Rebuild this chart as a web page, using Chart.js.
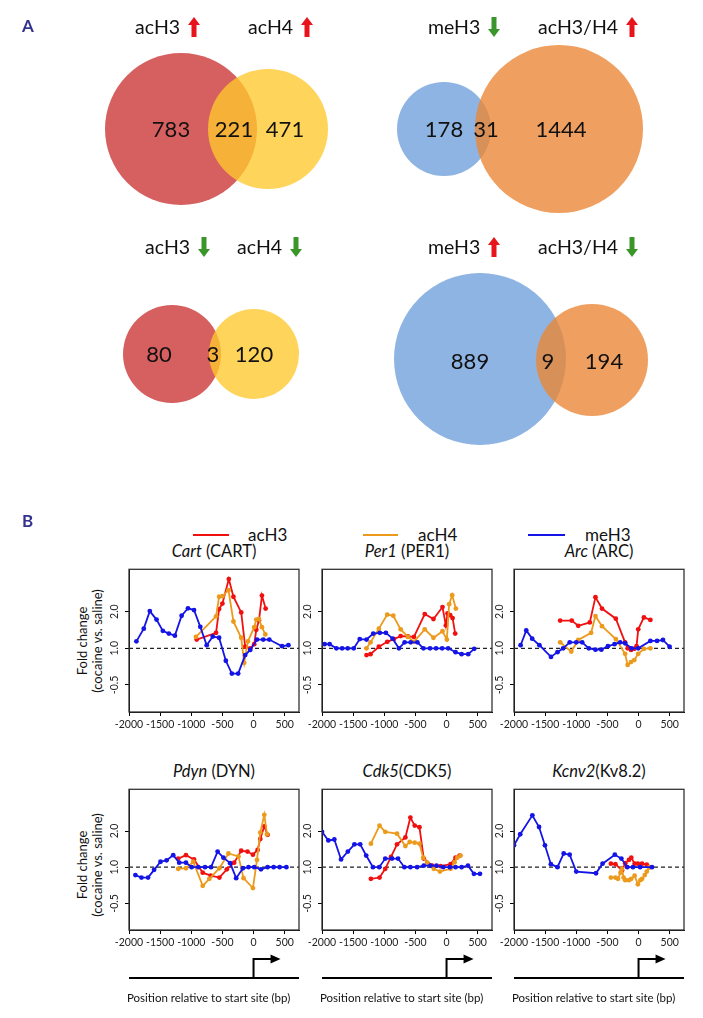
<!DOCTYPE html>
<html>
<head>
<meta charset="utf-8">
<script src="https://cdn.jsdelivr.net/npm/chart.js@4.4.0/dist/chart.umd.min.js"></script>
<style>
  body { margin: 0; background: #fff; }
  #page { position: relative; width: 703px; height: 1018px; overflow: hidden;
          font-family: Lato, "Open Sans", sans-serif; color: #111; }
  canvas { position: absolute; }
  .abs { position: absolute; white-space: nowrap; }
  .letter { font-weight: bold; font-size: 17px; color: #33338f; line-height: 20px; }
  .vt { font-size: 19.5px; line-height: 22px; display: flex; align-items: center; }
  .vt svg { margin-left: 8px; }
  .ttl { font-size: 16.5px; line-height: 20px; text-align: center; width: 170px; }
  .leg { font-size: 17px; line-height: 20px; }
  .legline { position: absolute; height: 2px; }
  .ytitle { font-size: 13px; line-height: 15px; text-align: center; width: 130px;
            transform: rotate(-90deg); }
</style>
</head>
<body>
<div id="page">
  <canvas id="venn" width="703" height="470" style="left:0;top:0"></canvas>

  <div class="abs letter" style="left:22px;top:16px">A</div>
  <div class="abs letter" style="left:22px;top:511px">B</div>

  <div id="vennTitles"></div>

  <!-- panel B legend -->
  <div class="legline" style="left:193px;top:534px;width:36px;background:#f01010"></div>
  <div class="abs leg" style="left:248px;top:525px">acH3</div>
  <div class="legline" style="left:363px;top:534px;width:35px;background:#ec9a1c"></div>
  <div class="abs leg" style="left:418px;top:525px">acH4</div>
  <div class="legline" style="left:528px;top:534px;width:37px;background:#1414e6"></div>
  <div class="abs leg" style="left:585px;top:525px">meH3</div>

  <div class="abs ttl" style="left:129px;top:541px"><i>Cart</i> (CART)</div>
  <div class="abs ttl" style="left:322px;top:541px"><i>Per1</i> (PER1)</div>
  <div class="abs ttl" style="left:514px;top:541px"><i>Arc</i> (ARC)</div>
  <div class="abs ttl" style="left:129px;top:761px"><i>Pdyn</i> (DYN)</div>
  <div class="abs ttl" style="left:322px;top:761px"><i>Cdk5</i>(CDK5)</div>
  <div class="abs ttl" style="left:514px;top:761px"><i>Kcnv2</i>(Kv8.2)</div>

  <div class="abs ytitle" style="left:25px;top:626px">Fold change<br>(cocaine vs. saline)</div>
  <div class="abs ytitle" style="left:25px;top:850px">Fold change<br>(cocaine vs. saline)</div>

  <canvas id="cart"></canvas>
  <canvas id="per1"></canvas>
  <canvas id="arc"></canvas>
  <canvas id="pdyn"></canvas>
  <canvas id="cdk5"></canvas>
  <canvas id="kcnv2"></canvas>
</div>

<script>
// ---- panel A: overlap counts ----
const vennCounts = [[783, 221, 471], [178, 31, 1444], [80, 3, 120], [889, 9, 194]];
const vennTitles = [
  [['acH3', 'up'], ['acH4', 'up']],
  [['meH3', 'down'], ['acH3/H4', 'up']],
  [['acH3', 'down'], ['acH4', 'down']],
  [['meH3', 'up'], ['acH3/H4', 'down']]
];

// ---- panel B: fold change (cocaine vs. saline), x = bp from start site ----
const xTicks = [-2000, -1500, -1000, -500, 0, 500];
const yTicks = [0.5, 1, 2];

const cartAcH3 = [[-913,1.18],[-602,1.34],[-553,2.1],[-500,2.33],[-397,3.7],[-323,2.65],[-198,1.97],[-134,1.03],[-53,1.0],[11,1.08],[44,1.42],[87,1.69],[135,2.71],[194,2.12]];
const cartAcH4 = [[-925,1.24],[-602,1.83],[-553,2.65],[-500,2.68],[-403,3.0],[-323,1.66],[-198,1.22],[-150,0.76],[-90,1.14],[11,1.49],[44,1.72],[87,1.74],[135,1.49],[189,1.3]];
const cartMeH3 = [[-1881,1.14],[-1763,1.45],[-1666,2.02],[-1558,1.72],[-1457,1.39],[-1360,1.32],[-1263,1.27],[-1155,1.85],[-1053,2.13],[-956,2.06],[-855,1.5],[-752,1.06],[-655,1.25],[-553,1.22],[-445,0.79],[-348,0.62],[-247,0.62],[-134,0.88],[-53,0.97],[55,1.18],[156,1.18],[253,1.18],[458,1.04],[560,1.06]];

const per1AcH3 = [[-1285,0.88],[-1221,0.895],[-1087,1.03],[-952,1.13],[-845,1.19],[-737,1.26],[-619,1.25],[-523,1.24],[-350,1.91],[-210,1.74],[-65,2.18],[-11,1.54],[16,1.93],[58,1.87],[97,1.77],[139,1.32]];
const per1AcH4 = [[-1285,1.0],[-1221,1.12],[-1087,1.45],[-952,1.89],[-855,1.85],[-737,1.43],[-619,1.24],[-523,1.13],[-350,1.43],[-210,1.22],[-65,1.38],[5,1.18],[42,2.3],[90,2.73],[150,2.12]];
const per1MeH3 = [[-1958,1.08],[-1877,1.08],[-1769,1.0],[-1677,1.0],[-1587,1.0],[-1490,1.0],[-1394,1.19],[-1285,1.18],[-1177,1.32],[-1071,1.34],[-974,1.34],[-866,1.2],[-765,1.0],[-673,1.12],[-576,1.12],[-468,1.12],[-371,1.0],[-265,1.0],[-168,1.0],[-71,1.0],[26,1.0],[145,0.93],[242,0.895],[348,0.895],[445,0.99]];

const arcAcH3 = [[-1259,1.69],[-1073,1.69],[-968,1.53],[-783,1.63],[-692,2.63],[-587,2.12],[-365,1.75],[-216,1.12],[-175,1.0],[-121,0.97],[-68,0.99],[-32,1.04],[-5,1.43],[86,1.79],[190,1.71]];
const arcAcH4 = [[-1259,1.12],[-1080,0.94],[-968,1.17],[-762,1.34],[-692,1.84],[-587,1.52],[-365,1.19],[-216,0.9],[-175,0.73],[-121,0.77],[-68,0.8],[-5,0.9],[86,0.99],[190,1.0]];
const arcMeH3 = [[-1894,1.06],[-1803,1.4],[-1708,1.2],[-1592,1.06],[-1406,0.85],[-1302,0.93],[-1211,1.0],[-1105,1.12],[-1000,1.12],[-905,1.12],[-798,1.0],[-692,0.975],[-597,0.975],[-492,1.04],[-386,1.08],[-295,1.12],[-216,1.1],[-111,1.0],[-5,1.0],[190,1.15],[297,1.15],[392,1.17],[498,1.03]];

const pdynAcH3 = [[-1210,1.18],[-1085,1.26],[-956,1.16],[-816,0.9],[-687,0.85],[-548,0.82],[-429,0.96],[-311,1.09],[-198,1.37],[-97,1.35],[-10,1.27],[65,1.39],[108,1.72],[173,2.19],[226,1.86]];
const pdynAcH4 = [[-1210,0.97],[-1085,0.98],[-968,1.11],[-816,0.7],[-710,0.8],[-548,0.98],[-403,1.3],[-242,1.23],[-161,0.81],[-10,0.67],[55,1.15],[108,1.94],[173,2.73],[216,1.88]];
const pdynMeH3 = [[-1897,0.86],[-1800,0.82],[-1694,0.82],[-1597,0.95],[-1494,1.11],[-1397,1.14],[-1290,1.26],[-1194,1.09],[-1085,1.09],[-994,1.0],[-887,1.0],[-779,1.0],[-682,1.0],[-577,1.35],[-484,1.2],[-376,1.08],[-279,0.81],[-171,0.98],[-81,1.0],[11,1.0],[119,0.96],[226,1.0],[323,1.0],[419,1.0],[527,1.0]];

const cdk5AcH3 = [[-1215,0.8],[-1076,0.82],[-984,0.97],[-892,1.22],[-795,1.55],[-661,1.77],[-581,2.59],[-511,2.22],[-435,2.15],[-366,1.18],[-231,1.03],[-97,1.02],[65,1.06],[145,1.2],[210,1.25]];
const cdk5AcH4 = [[-1215,1.57],[-1076,2.22],[-984,1.97],[-795,1.9],[-661,1.5],[-592,1.62],[-511,1.6],[-435,1.57],[-375,1.2],[-311,1.09],[-204,0.97],[-106,0.92],[65,0.97],[129,1.1],[173,1.2],[226,1.25]];
const cdk5MeH3 = [[-2000,1.97],[-1898,1.67],[-1802,1.7],[-1694,1.16],[-1585,1.35],[-1479,1.55],[-1387,1.55],[-1290,1.25],[-1182,1.0],[-1081,1.0],[-984,1.18],[-876,1.18],[-779,1.18],[-677,1.0],[-581,1.0],[-473,1.0],[-366,1.03],[-258,1.03],[-161,1.03],[-53,1.0],[53,1.0],[145,1.0],[242,1.0],[344,1.03],[440,0.88],[537,0.88]];

const kcnv2AcH3 = [[-444,1.07],[-371,1.06],[-265,0.94],[-213,1.08],[-154,1.15],[-117,1.2],[-63,1.07],[-11,1.07],[57,1.07],[132,1.05],[175,1.0]];
const kcnv2AcH4 = [[-444,0.82],[-371,0.82],[-330,0.8],[-290,0.9],[-265,0.97],[-240,0.82],[-213,0.78],[-154,0.78],[-117,0.8],[-63,0.85],[-11,0.72],[30,0.78],[57,0.8],[100,0.86],[132,0.92],[175,1.0]];
const kcnv2MeH3 = [[-2000,1.52],[-1900,1.88],[-1705,2.7],[-1598,2.16],[-1503,1.52],[-1408,1.06],[-1302,1.0],[-1202,1.3],[-1106,1.27],[-1000,0.92],[-683,0.89],[-578,1.07],[-381,1.27],[-276,1.18],[-181,1.0],[-90,1.0],[25,1.0],[216,1.0]];

// ---- layout / style ----
const FONT = 'Lato, "Open Sans", sans-serif';
const RED = '#f01010', ORANGE = '#ec9a1c', BLUE = '#1414e6';
const ARROW_RED = '#e8141b', ARROW_GREEN = '#3a962a';

// circle centre x, centre y, radius (px) for each diagram
const vennCircles = [
  [[181, 129, 76], [268, 129, 60]],
  [[444, 129, 47], [559, 129, 84]],
  [[172, 354, 49], [254, 354, 45]],
  [[480, 359, 86], [592, 360, 56]]
];
const vennColors = [
  ['#d65f5f', 'rgba(255,200,45,0.78)'],
  ['#8db4e2', 'rgba(235,135,55,0.8)'],
  ['#d65f5f', 'rgba(255,200,45,0.78)'],
  ['#8db4e2', 'rgba(235,135,55,0.8)']
];
const vennLabelX = [[171, 234, 285], [444, 486, 561], [159, 213, 254], [470, 548, 604]];
const vennLabelY = [130, 130, 355, 362];
const vennTitleX = [[135, 248], [428, 538], [145, 237], [428, 538]];
const vennTitleY = [27, 27, 247, 247];

function arrowSvg(dir) {
  const col = dir === 'up' ? ARROW_RED : ARROW_GREEN;
  const pts = dir === 'up'
    ? '6,0 12,8 8.5,8 8.5,20 3.5,20 3.5,8 0,8'
    : '3.5,0 8.5,0 8.5,12 12,12 6,20 0,12 3.5,12';
  return '<svg width="12" height="20"><polygon points="' + pts + '" fill="' + col + '"/></svg>';
}

const titleBox = document.getElementById('vennTitles');
vennTitles.forEach((pair, i) => {
  pair.forEach((t, j) => {
    const d = document.createElement('div');
    d.className = 'abs vt';
    d.style.left = vennTitleX[i][j] + 'px';
    d.style.top = (vennTitleY[i] - 11) + 'px';
    d.innerHTML = '<span>' + t[0] + '</span>' + arrowSvg(t[1]);
    titleBox.appendChild(d);
  });
});

const vennLabels = {
  id: 'vennLabels',
  afterDatasetsDraw(chart) {
    const { ctx, scales: { x, y } } = chart;
    ctx.save();
    ctx.font = '22px ' + FONT;
    ctx.fillStyle = '#111';
    ctx.textAlign = 'center';
    ctx.textBaseline = 'middle';
    vennCounts.forEach((counts, i) => {
      counts.forEach((c, j) => {
        ctx.fillText(String(c), x.getPixelForValue(vennLabelX[i][j]), y.getPixelForValue(vennLabelY[i]));
      });
    });
    ctx.restore();
  }
};

new Chart(document.getElementById('venn'), {
  type: 'bubble',
  data: {
    datasets: vennCircles.map((pair, i) => ({
      data: pair.map(c => ({ x: c[0], y: c[1], r: c[2] })),
      backgroundColor: vennColors[i],
      borderWidth: 0,
      clip: false
    }))
  },
  options: {
    responsive: false,
    animation: false,
    events: [],
    layout: { padding: 0, autoPadding: false },
    scales: {
      x: { display: false, min: 0, max: 703 },
      y: { display: false, min: 0, max: 470, reverse: true }
    },
    plugins: { legend: { display: false }, tooltip: { enabled: false } }
  },
  plugins: [vennLabels]
});

// ---- panel B charts ----
const frame = {
  id: 'frame',
  beforeDatasetsDraw(chart) {
    const { ctx, chartArea: a, scales: { y } } = chart;
    const py = y.getPixelForValue(1);
    ctx.save();
    ctx.strokeStyle = '#222';
    ctx.lineWidth = 1.2;
    ctx.setLineDash([4, 3]);
    ctx.beginPath();
    ctx.moveTo(a.left, py);
    ctx.lineTo(a.right, py);
    ctx.stroke();
    ctx.restore();
  },
  afterDraw(chart, args, opts) {
    const { ctx, chartArea: a } = chart;
    ctx.save();
    ctx.strokeStyle = '#333';
    ctx.lineWidth = 1.3;
    ctx.strokeRect(a.left, a.top, a.right - a.left, a.bottom - a.top);
    if (opts.gene) {
      // promoter sketch under the axis
      const x0 = chart.scales.x.getPixelForValue(0);
      const base = a.bottom + 48, top = base - 19;
      ctx.strokeStyle = '#000';
      ctx.fillStyle = '#000';
      ctx.lineWidth = 2;
      ctx.beginPath();
      ctx.moveTo(a.left, base); ctx.lineTo(a.right, base);
      ctx.moveTo(x0, base); ctx.lineTo(x0, top); ctx.lineTo(x0 + 18, top);
      ctx.stroke();
      ctx.beginPath();
      ctx.moveTo(x0 + 17, top - 4.5); ctx.lineTo(x0 + 27, top); ctx.lineTo(x0 + 17, top + 4.5);
      ctx.closePath();
      ctx.fill();
      ctx.font = '11.5px ' + FONT;
      ctx.textBaseline = 'middle';
      ctx.fillStyle = '#111';
      ctx.fillText('Position relative to start site (bp)', a.left - 2, base + 20);
    }
    ctx.restore();
  }
};

function series(points, color) {
  return {
    data: points.map(p => ({ x: p[0], y: p[1] })),
    borderColor: color,
    backgroundColor: color,
    borderWidth: 1.8,
    pointRadius: 2.4,
    pointBorderWidth: 0,
    tension: 0
  };
}

function geneChart(id, boxLeft, boxTop, boxH, withGene, meH3, acH4, acH3) {
  const cv = document.getElementById(id);
  const padBottom = withGene ? 60 : 0;
  cv.width = 210;
  cv.height = 6 + boxH + 26 + padBottom;
  cv.style.left = (boxLeft - 32) + 'px';
  cv.style.top = (boxTop - 6) + 'px';
  const tickFont = { family: FONT, size: 10.5 };
  new Chart(cv, {
    type: 'line',
    data: { datasets: [series(meH3, BLUE), series(acH4, ORANGE), series(acH3, RED)] },
    options: {
      responsive: false,
      animation: false,
      events: [],
      layout: { padding: { top: 6, right: 8, left: 0, bottom: padBottom } },
      scales: {
        x: {
          type: 'linear', min: -2000, max: 730,
          afterBuildTicks: s => { s.ticks = xTicks.map(v => ({ value: v })); },
          afterFit: s => { s.height = 26; },
          grid: { drawOnChartArea: false, drawTicks: true, tickLength: 4, color: '#000' },
          border: { display: true, color: '#000' },
          ticks: { font: tickFont, color: '#222', padding: 2, maxRotation: 0, autoSkip: false,
                   callback: v => String(v) }
        },
        y: {
          type: 'logarithmic', min: 0.32, max: 4.45,
          afterBuildTicks: s => { s.ticks = yTicks.map(v => ({ value: v })); },
          afterFit: s => { s.width = 32; },
          grid: { drawOnChartArea: false, drawTicks: true, tickLength: 4, color: '#000' },
          border: { display: true, color: '#000' },
          ticks: { font: tickFont, color: '#222', padding: 1, minRotation: 90, maxRotation: 90,
                   crossAlign: 'center', autoSkip: false,
                   callback: v => (v === 0.5 ? '-0.5' : Number(v).toFixed(1)) }
        }
      },
      plugins: { legend: { display: false }, tooltip: { enabled: false }, frame: { gene: withGene } }
    },
    plugins: [frame]
  });
}

geneChart('cart', 129, 568, 144, false, cartMeH3, cartAcH4, cartAcH3);
geneChart('per1', 322, 568, 144, false, per1MeH3, per1AcH4, per1AcH3);
geneChart('arc', 514, 568, 144, false, arcMeH3, arcAcH4, arcAcH3);
geneChart('pdyn', 129, 788, 142, true, pdynMeH3, pdynAcH4, pdynAcH3);
geneChart('cdk5', 322, 788, 142, true, cdk5MeH3, cdk5AcH4, cdk5AcH3);
geneChart('kcnv2', 514, 788, 142, true, kcnv2MeH3, kcnv2AcH4, kcnv2AcH3);
</script>
</body>
</html>
